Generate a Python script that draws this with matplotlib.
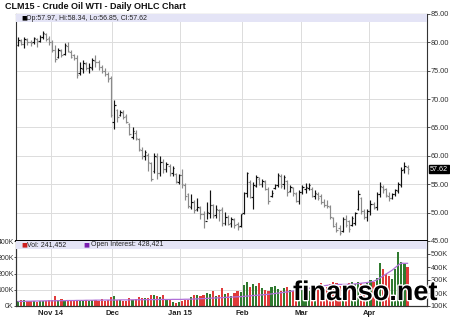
import numpy as np
import matplotlib
matplotlib.use("Agg")
import matplotlib.pyplot as plt
from matplotlib.patches import Rectangle
import matplotlib.patheffects as pe

plt.rcParams["font.family"] = ["Liberation Sans", "DejaVu Sans"]

# ---------------- data ----------------
month_labels = ["Nov 14", "Dec", "Jan 15", "Feb", "Mar", "Apr"]
# number of daily bars in each month segment (Oct tail, Nov, Dec, Jan, Feb, Mar, Apr)
month_counts = [11, 20, 22, 20, 19, 22, 13]

highs = [
    81.0, 80.6, 81.0, 80.8, 80.5, 80.9, 80.7, 81.3, 82.0, 81.6, 81.2,
    80.4, 79.5, 79.0, 78.8, 79.9, 80.1, 78.6, 78.0, 77.8, 76.6, 76.9, 76.6, 76.3, 77.2, 77.8, 76.9, 76.0, 75.5, 74.8, 74.0,
    69.8, 68.2, 68.0, 68.0, 67.3, 65.8, 65.0, 64.5, 63.2, 61.5, 61.0, 60.5, 59.0, 60.5, 60.5, 60.0, 59.4, 59.0, 58.5, 58.3, 57.0, 56.8,
    57.6, 55.3, 53.5, 53.2, 52.3, 52.5, 51.2, 50.3, 51.8, 54.0, 51.6, 51.3, 50.7, 51.0, 50.1, 49.5, 49.2, 49.0, 48.3, 49.8,
    53.6, 57.2, 55.7, 55.4, 56.6, 56.3, 56.0, 55.7, 54.5, 53.9, 55.1, 56.9, 56.8, 56.6, 55.7, 54.9, 54.6, 53.6, 53.9,
    54.8, 55.2, 55.2, 54.5, 53.9, 53.6, 53.3, 52.4, 52.2, 51.3, 49.2, 48.3, 47.8, 49.2, 49.5, 48.7, 49.4, 50.1, 53.9, 52.8, 50.7, 50.7,
    52.2, 51.8, 53.6, 55.4, 54.8, 54.4, 53.6, 53.4, 54.2, 55.4, 58.0, 58.9, 58.34,
]
lows = [
    79.3, 79.5, 79.0, 79.6, 79.4, 79.8, 79.2, 80.0, 80.6, 80.2, 79.6,
    78.3, 76.6, 77.3, 77.5, 77.8, 78.3, 77.2, 76.9, 73.7, 74.2, 74.6, 75.1, 74.6, 75.1, 75.7, 75.1, 74.6, 74.0, 73.0, 66.8,
    64.8, 66.0, 67.0, 66.5, 65.8, 63.6, 63.0, 62.8, 60.8, 59.5, 59.2, 57.3, 55.5, 57.0, 56.0, 56.5, 57.0, 57.2, 56.5, 56.5, 55.3, 55.0,
    54.4, 52.3, 50.8, 50.6, 50.0, 50.2, 48.8, 47.3, 48.8, 49.0, 49.0, 49.0, 48.6, 47.6, 47.8, 47.8, 47.4, 47.3, 46.9, 47.4,
    49.8, 52.8, 52.5, 50.7, 54.5, 54.8, 54.5, 53.9, 51.6, 52.7, 54.2, 54.5, 54.3, 54.2, 53.0, 53.6, 53.0, 51.9, 51.6,
    53.2, 53.5, 54.0, 52.7, 52.4, 52.2, 51.6, 51.0, 50.8, 48.9, 47.4, 46.6, 46.0, 46.6, 47.4, 46.6, 47.6, 47.8, 50.4, 49.8, 48.9, 48.6,
    49.5, 50.6, 50.4, 52.8, 53.5, 52.8, 52.1, 52.4, 53.0, 53.4, 54.5, 56.9, 56.85,
]
opens = [
    79.6, 80.3, 79.8, 80.5, 80.1, 80.0, 80.6, 80.3, 80.9, 81.5, 80.8,
    80.0, 78.7, 77.5, 78.5, 77.9, 79.4, 78.3, 77.7, 77.2, 74.6, 75.3, 76.2, 75.5, 75.4, 76.8, 76.5, 75.7, 75.0, 74.5, 73.7,
    66.0, 68.0, 67.2, 67.6, 67.0, 65.6, 63.4, 64.0, 63.0, 61.0, 60.0, 60.2, 58.8, 57.3, 59.8, 57.0, 58.9, 57.6, 58.2, 57.0, 56.8, 55.4,
    56.7, 54.9, 53.2, 51.0, 51.8, 50.6, 50.9, 49.8, 48.6, 50.0, 51.3, 49.5, 50.5, 50.6, 48.2, 49.2, 48.1, 48.7, 48.0, 47.6,
    50.0, 53.4, 55.4, 52.7, 54.7, 55.9, 55.0, 55.4, 54.2, 52.9, 54.4, 54.9, 56.5, 55.0, 55.5, 53.8, 54.4, 53.3, 52.0,
    53.6, 54.2, 54.3, 54.2, 52.9, 53.3, 53.0, 51.9, 51.3, 51.0, 49.0, 48.0, 47.3, 46.8, 48.8, 48.5, 47.8, 48.1, 50.6, 52.6, 50.2, 49.3,
    50.2, 51.5, 51.0, 53.2, 54.5, 54.1, 53.0, 52.6, 53.3, 53.8, 54.8, 57.6, 57.97,
]
closes = [
    80.4, 79.8, 80.6, 80.0, 79.9, 80.7, 80.2, 81.0, 81.6, 80.6, 80.0,
    78.6, 77.1, 78.6, 77.8, 79.5, 78.5, 77.5, 77.3, 74.3, 75.5, 76.3, 75.4, 75.6, 76.9, 76.6, 75.6, 74.9, 74.4, 73.6, 67.2,
    68.9, 66.9, 67.8, 66.9, 65.9, 63.9, 64.3, 63.1, 61.2, 60.0, 60.6, 58.9, 56.0, 60.0, 56.9, 59.0, 57.6, 58.6, 57.0, 57.9, 55.6, 56.6,
    55.0, 52.9, 51.1, 51.9, 50.5, 51.0, 49.7, 48.5, 50.1, 51.4, 49.4, 50.6, 50.4, 48.1, 49.3, 48.0, 48.8, 47.9, 47.5, 49.7,
    53.4, 56.9, 52.8, 54.9, 56.3, 55.0, 55.6, 54.1, 52.0, 53.5, 54.9, 56.6, 54.7, 56.2, 53.6, 54.6, 53.4, 52.1, 53.7,
    54.5, 54.6, 54.8, 53.0, 53.4, 52.6, 51.9, 51.4, 51.2, 49.2, 47.7, 47.0, 46.4, 48.9, 47.8, 47.2, 49.0, 49.9, 53.2, 50.2, 49.2, 50.3,
    51.6, 50.9, 53.3, 54.7, 53.9, 53.1, 52.5, 53.2, 54.0, 55.0, 57.5, 58.2, 57.62,
]
volume_k = [
    28, 35, 38, 33, 30, 28, 25, 30, 32, 28, 36,
    40, 60, 35, 42, 30, 35, 40, 38, 32, 36, 35, 40, 30, 35, 38, 33, 45, 30, 40, 58,
    60, 35, 38, 32, 30, 50, 40, 45, 55, 48, 52, 50, 70, 65, 60, 55, 65, 40, 38, 25, 20, 22,
    30, 35, 40, 55, 70, 65, 62, 68, 80, 75, 95, 60, 70, 110, 75, 80, 60, 82, 90, 85,
    130, 150, 120, 135, 125, 140, 110, 100, 90, 115, 125, 105, 95, 110, 120, 100, 90, 115, 120,
    125, 110, 95, 105, 130, 120, 140, 115, 120, 135, 150, 140, 125, 130, 120, 140, 145, 135, 150, 140, 130, 145,
    160, 150, 170, 265, 230, 195, 185, 165, 230, 330, 270, 260, 241.452,
]
open_interest_k = [
    135, 136, 136, 137, 137, 138, 138, 139, 139, 140, 140,
    140, 140, 141, 141, 141, 142, 142, 142, 143, 143, 143, 144, 144, 144, 145, 145, 145, 146, 146, 146,
    146, 146, 147, 147, 147, 147, 148, 148, 148, 148, 149, 149, 149, 149, 150, 150, 150, 150, 150, 151, 151, 151,
    151, 152, 152, 153, 154, 155, 156, 157, 158, 160, 161, 162, 163, 164, 166, 167, 168, 170, 171, 172,
    174, 176, 178, 180, 182, 184, 186, 188, 190, 193, 196, 199, 202, 205, 208, 212, 216, 220, 224,
    228, 232, 236, 240, 244, 248, 252, 256, 259, 262, 264, 265, 266, 266, 266, 267, 268, 270, 272, 275, 278, 281,
    285, 290, 300, 315, 330, 345, 360, 375, 395, 415, 430, 428, 428.421,
]
price_ticks = [45, 50, 55, 60, 65, 70, 75, 80, 85]
vol_ticks_k = [0, 100, 200, 300, 400]
oi_ticks_k = [100, 200, 300, 400, 500]

# ---------------- figure ----------------
W, H = 450, 320
fig = plt.figure(figsize=(4.5, 3.2), dpi=100)
fig.patch.set_facecolor("white")

def rect(x0, y0, x1, y1):
    return [x0 / W, 1 - y1 / H, (x1 - x0) / W, (y1 - y0) / H]

ax = fig.add_axes(rect(16, 14, 427, 241))
axv = fig.add_axes(rect(16, 241, 427, 306), sharex=ax)
axo = axv.twinx()

n = len(closes)
x = np.arange(n)
o = np.array(opens); c = np.array(closes)
hi = np.array(highs); lo = np.array(lows)
up = c >= o
bar_cols = np.where(up, "#111111", "#8a8a8a")

starts = np.cumsum([0] + month_counts[:-1])[1:]  # first index of Nov..Apr
grid_x = starts - 0.5

grid_col = "#dcdcdc"
tick_col = "#333333"
# price panel
ax.set_facecolor("white")
for gy in price_ticks[1:-1]:
    ax.axhline(gy, color=grid_col, lw=0.7, zorder=0)
for gx in grid_x:
    ax.axvline(gx, color=grid_col, lw=0.7, zorder=0)
ax.vlines(x, lo, hi, colors=bar_cols, lw=0.85, zorder=3)
ax.hlines(o, x - 0.5, x, colors=bar_cols, lw=0.85, zorder=3)
ax.hlines(c, x, x + 0.5, colors=bar_cols, lw=0.85, zorder=3)
ax.set_ylim(45, 85)
ax.set_xlim(-0.7, 132.3)
ax.yaxis.tick_right()
ax.set_yticks(price_ticks)
ax.set_yticklabels([f"{v:.2f}" for v in price_ticks])
ax.tick_params(axis="y", which="both", direction="out", length=2, width=0.6,
               labelsize=5.3, colors=tick_col, pad=0.8)
ax.tick_params(axis="x", which="both", bottom=False, labelbottom=False)
for s in ax.spines.values():
    s.set_color("#333333"); s.set_linewidth(0.8)
ax.spines["bottom"].set_linewidth(1.4)
ax.spines["bottom"].set_color("black")

# lavender legend band (price)
band_h = 8 / 227
ax.add_patch(Rectangle((0, 1 - band_h), 1, band_h, transform=ax.transAxes,
                       facecolor="#e4e4f6", edgecolor="none", zorder=4))
ax.text(5 / 411, 1 - band_h / 2, "\u25a0", transform=ax.transAxes, fontsize=4.5,
        va="center", ha="left", color="black", zorder=5, family="DejaVu Sans")
ax.text(10 / 411, 1 - band_h / 2,
        f"Op:{opens[-1]:.2f}, Hi:{highs[-1]:.2f}, Lo:{lows[-1]:.2f}, Cl:{closes[-1]:.2f}",
        transform=ax.transAxes, fontsize=5, va="center", ha="left",
        color="#222222", zorder=5)

# last price box
ax.annotate(f"{closes[-1]:.2f}", xy=(1, closes[-1]), xycoords=("axes fraction", "data"),
            xytext=(2.2, 0), textcoords="offset points", fontsize=5.2, color="white",
            va="center", ha="left",
            bbox=dict(boxstyle="square,pad=0.08", facecolor="black", edgecolor="black"),
            annotation_clip=False, zorder=6)

# volume panel
vol = np.array(volume_k) * 1000
oi = np.array(open_interest_k) * 1000
vcols = np.where(up, "#2f7a2f", "#e03a3a")
axv.set_facecolor("white")
for gy in [100000, 200000, 300000]:
    axv.axhline(gy, color=grid_col, lw=0.7, zorder=0)
for gx in grid_x:
    axv.axvline(gx, color=grid_col, lw=0.7, zorder=0)
axv.bar(x, vol, width=0.7, color=vcols, edgecolor="none", zorder=2)
axv.set_ylim(0, 400000)
axv.set_yticks([v * 1000 for v in vol_ticks_k])
axv.set_yticklabels([f"{v}K" for v in vol_ticks_k])
axv.tick_params(axis="y", direction="out", length=1.2, width=0.6, labelsize=5,
                colors=tick_col, pad=0.4)
axv.set_xticks(grid_x)
axv.set_xticklabels(month_labels, fontsize=5.5, fontweight="bold", color="#222222")
axv.tick_params(axis="x", length=0, pad=3)

axo.plot(x, oi, color="#b070d8", lw=0.9, zorder=3)
axo.set_ylim(100000, 600000)
axo.set_yticks([v * 1000 for v in oi_ticks_k])
axo.set_yticklabels([f"{v}K" for v in oi_ticks_k])
axo.tick_params(axis="y", direction="out", length=2, width=0.6, labelsize=5.3,
                colors=tick_col, pad=0.8)
for a in (axv, axo):
    for s in a.spines.values():
        s.set_color("#333333"); s.set_linewidth(0.8)
    a.spines["top"].set_visible(False)

vband = 8 / 65
axo.add_patch(Rectangle((0, 1 - vband), 1, vband, transform=axo.transAxes,
                        facecolor="#e4e4f6", edgecolor="none", zorder=4))
axo.text(5 / 411, 1 - vband / 2, "\u25a0", transform=axo.transAxes, fontsize=4.5,
         va="center", ha="left", color="#cc1f1f", zorder=5, family="DejaVu Sans")
axo.text(11 / 411, 1 - vband / 2, f"Vol: {volume_k[-1] * 1000:,.0f}", transform=axo.transAxes,
         fontsize=5, va="center", ha="left", color="#222222", zorder=5)
axo.text(67 / 411, 1 - vband / 2, "\u25a0", transform=axo.transAxes, fontsize=4.5,
         va="center", ha="left", color="#7a1fb0", zorder=5, family="DejaVu Sans")
axo.text(75 / 411, 1 - vband / 2, f"Open Interest: {open_interest_k[-1] * 1000:,.0f}",
         transform=axo.transAxes, fontsize=5, va="center", ha="left",
         color="#222222", zorder=5)

# title
fig.text(5 / W, 1 - 6.5 / H, "CLM15 - Crude Oil WTI - Daily OHLC Chart", fontsize=6.5,
         fontweight="bold", va="center", ha="left", color="#111111")

# watermark
fig.text(293 / W, 1 - 300 / H, "finanso.net", fontsize=19.5, fontweight="bold",
         color="black", ha="left", va="baseline",
         path_effects=[pe.withStroke(linewidth=2, foreground="white")], zorder=10)

fig.savefig("out.png", dpi=100, facecolor="white")
